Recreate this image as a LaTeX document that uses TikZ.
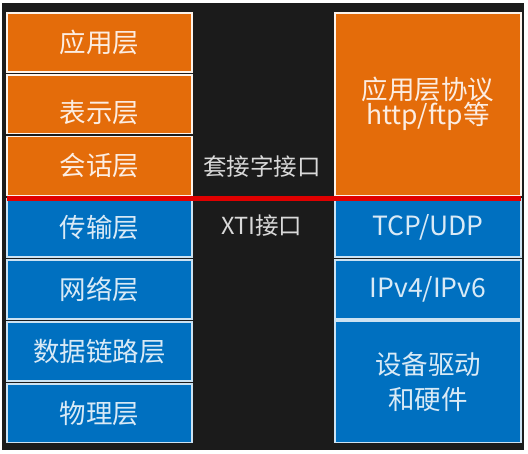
\documentclass[tikz,border=0pt]{standalone}
\usepackage{fontspec}
\newfontfamily\cjk{Noto Sans CJK SC}
\usetikzlibrary{positioning}
\definecolor{osiorange}{HTML}{E46C0A}
\definecolor{osiblue}{HTML}{0070C0}
\definecolor{panelbg}{HTML}{1B1B1B}
\definecolor{cutred}{HTML}{E00000}
\tikzset{
  layer/.style={line width=1.6pt,inner sep=0pt,align=center,
    font=\cjk\fontsize{26.5}{31}\selectfont},
  upper/.style={layer,fill=osiorange,draw=white!92!osiorange,text=white!88!osiorange},
  lower/.style={layer,fill=osiblue,draw=white!80!osiblue,text=white!85!osiblue},
  leftcol/.style={minimum width=185pt,minimum height=58.8pt},
  rightcol/.style={minimum width=186pt},
  api/.style={text=white!85!black,font=\cjk\fontsize{23.5}{28}\selectfont},
}

\begin{document}
\begin{tikzpicture}[x=1pt,y=-1pt]
\useasboundingbox (0,0) rectangle (528,453);
\fill[white] (0,0) rectangle (528,453);
\fill[panelbg] (2,3) rectangle (524,450);
% OSI layers
\node[upper,leftcol] (app)  at (99.5,42.4)  {应用层};
\node[upper,leftcol] (pres) at (99.5,104.2) {};
\node[text=white!88!osiorange,font=\cjk\fontsize{26.5}{31}\selectfont]
  (prestxt) at ([yshift=-8pt]pres.center) {表示层};
\node[upper,leftcol] (sess) at (99.5,166.0) {会话层};
\node[lower,leftcol] (trans) at (99.5,227.8) {传输层};
\node[lower,leftcol] (net)  at (99.5,289.6) {网络层};
\node[lower,leftcol] (link) at (99.5,351.4) {数据链路层};
\node[lower,leftcol] (phys) at (99.5,413.2) {物理层};
% TCP/IP side
\node[upper,rightcol,minimum height=182.4pt] (proto) at (428,104.2)
  {应用层协议\\[-6pt]http/ftp等};
\node[lower,rightcol,minimum height=58.8pt] (tcp) at (428,227.8) {TCP/UDP};
\node[lower,rightcol,minimum height=58.8pt] (ip)  at (428,289.6) {IPv4/IPv6};
\node[lower,rightcol,minimum height=121.8pt] (hw) at (428,381.7)
  {设备驱动\\[4pt]和硬件};
% interfaces
\node[api] (sock) at (262,167) {套接字接口};
\node[api] (xti)  at (262,226) {XTI接口};
\coordinate (cutl) at (7,198);
\coordinate (cutr) at (521,198);
\draw[cutred,line width=5pt] (cutl) -- (cutr);
\end{tikzpicture}
\end{document}
